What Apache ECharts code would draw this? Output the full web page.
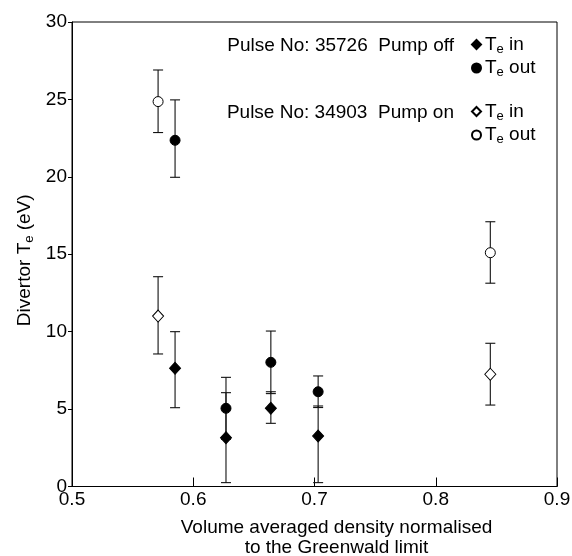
<!DOCTYPE html>
<html><head><meta charset="utf-8">
<script src="https://cdn.jsdelivr.net/npm/echarts@6/dist/echarts.min.js"></script>
<style>html,body{margin:0;padding:0;background:#fff}#c{width:572px;height:556px}</style>
</head><body><div id="c"></div>
<script>
// Pulse 35726, pump off
const offInX = [0.585, 0.627, 0.664, 0.703];
const offInY = [7.63, 3.15, 5.05, 3.26];
const offInLow = [5.09, 0.25, 4.08, 0.25];
const offInHigh = [10.0, 6.06, 6.12, 5.2];
const offOutX = [0.585, 0.627, 0.664, 0.703];
const offOutY = [22.36, 5.05, 8.02, 6.12];
const offOutLow = [19.97, 3.05, 6.0, 5.1];
const offOutHigh = [24.97, 7.05, 10.04, 7.14];
// Pulse 34903, pump on
const onInX = [0.571, 0.845];
const onInY = [11.01, 7.25];
const onInLow = [8.56, 5.26];
const onInHigh = [13.55, 9.25];
const onOutX = [0.571, 0.845];
const onOutY = [24.86, 15.1];
const onOutLow = [22.86, 13.13];
const onOutHigh = [26.9, 17.1];
const xTicks = [0.5, 0.6, 0.7, 0.8, 0.9];
const yTicks = [0, 5, 10, 15, 20, 25, 30];
const legendLabels = {offIn: 'in', offOut: 'out', onIn: 'in', onOut: 'out'};
const pulseLabels = ['Pulse No: 35726  Pump off', 'Pulse No: 34903  Pump on'];

const FONT = 'Liberation Sans';
const chart = echarts.init(document.getElementById('c'), null, {renderer: 'canvas'});
const pts = (xs, ys) => xs.map((x, i) => [x, ys[i]]);
const errs = (xs, lo, hi) => xs.map((x, i) => [x, lo[i], hi[i]]);
const allErr = [].concat(
  errs(offInX, offInLow, offInHigh), errs(offOutX, offOutLow, offOutHigh),
  errs(onInX, onInLow, onInHigh), errs(onOutX, onOutLow, onOutHigh));

function errItem(params, api) {
  const x = api.value(0);
  const p1 = api.coord([x, api.value(1)]);
  const p2 = api.coord([x, api.value(2)]);
  const w = 5;
  const st = {stroke: '#111', lineWidth: 1.1};
  return {type: 'group', children: [
    {type: 'line', shape: {x1: p1[0], y1: p1[1], x2: p2[0], y2: p2[1]}, style: st},
    {type: 'line', shape: {x1: p1[0]-w, y1: p1[1], x2: p1[0]+w, y2: p1[1]}, style: st},
    {type: 'line', shape: {x1: p2[0]-w, y1: p2[1], x2: p2[0]+w, y2: p2[1]}, style: st}
  ]};
}

const rich = {
  t: {fontFamily: FONT, fontSize: 19, color: '#000', lineHeight: 22},
  s: {fontFamily: FONT, fontSize: 13, color: '#000', lineHeight: 10, verticalAlign: 'bottom'}
};
const legendCommon = {
  orient: 'vertical', left: 471, itemWidth: 9, itemHeight: 9, itemGap: 3,
  selectedMode: false, padding: 0,
  formatter: n => '{t|T}{s|e}{t| ' + legendLabels[n] + '}',
  textStyle: {rich: rich, padding: [0, 0, 0, -1]}
};
const sym = (fill) => ({color: fill, borderColor: '#000', borderWidth: 1, opacity: 1});

chart.setOption({
  animation: false,
  backgroundColor: '#fff',
  grid: {left: 72, right: 15, top: 22, bottom: 69.5, show: true, borderColor: '#000', borderWidth: 1,
    backgroundColor: 'transparent', containLabel: false, outerBoundsMode: 'none'},
  xAxis: {
    type: 'value', min: 0.5, max: 0.9, interval: 0.1,
    name: 'Volume averaged density normalised\nto the Greenwald limit',
    nameLocation: 'middle', nameGap: 31, nameMoveOverlap: false,
    nameTextStyle: {fontFamily: FONT, fontSize: 19, color: '#000', lineHeight: 20, padding: [0, 0, 0, 44]},
    axisLine: {show: true, lineStyle: {color: '#000', width: 1}},
    axisTick: {show: true, inside: true, length: 9, lineStyle: {color: '#000'}},
    axisLabel: {fontFamily: FONT, fontSize: 19, color: '#000', margin: 4,
      formatter: v => xTicks.includes(+v.toFixed(1)) ? v.toFixed(1) : ''},
    splitLine: {show: false}
  },
  yAxis: {
    type: 'value', min: 0, max: 30, interval: 5,
    name: '{t|Divertor T}{s|e}{t| (eV)}',
    nameLocation: 'middle', nameGap: 36, nameRotate: 90, nameMoveOverlap: false,
    nameTextStyle: {padding: [0, 12, 0, 0], rich: {
      t: {fontFamily: FONT, fontSize: 19, color: '#000', lineHeight: 22},
      s: {fontFamily: FONT, fontSize: 13, color: '#000', lineHeight: 10, verticalAlign: 'bottom'}
    }},
    axisLine: {show: true, lineStyle: {color: '#000', width: 1}},
    axisTick: {show: true, inside: false, length: 4, lineStyle: {color: '#000'}},
    axisLabel: {fontFamily: FONT, fontSize: 19, color: '#000', margin: 5,
      formatter: v => yTicks.includes(v) ? String(v) : ''},
    splitLine: {show: false}
  },
  graphic: [
    {type: 'text', x: 454, y: 46, style: {text: pulseLabels[0], fontFamily: FONT, fontSize: 19, fill: '#000', textAlign: 'right', textVerticalAlign: 'middle'}},
    {type: 'text', x: 454, y: 113, style: {text: pulseLabels[1], fontFamily: FONT, fontSize: 19, fill: '#000', textAlign: 'right', textVerticalAlign: 'middle'}}
  ],
  legend: [
    Object.assign({}, legendCommon, {top: 35, data: ['offIn', 'offOut']}),
    Object.assign({}, legendCommon, {top: 102, data: ['onIn', 'onOut']})
  ],
  series: [
    {type: 'custom', name: 'err', renderItem: errItem, data: allErr, z: 1, silent: true},
    {type: 'scatter', name: 'offIn', data: pts(offInX, offInY), symbol: 'diamond', symbolSize: [11, 12],
      itemStyle: sym('#000'), z: 3},
    {type: 'scatter', name: 'offOut', data: pts(offOutX, offOutY), symbol: 'circle', symbolSize: 10,
      itemStyle: sym('#000'), z: 3},
    {type: 'scatter', name: 'onIn', data: pts(onInX, onInY), symbol: 'diamond', symbolSize: [11, 12],
      itemStyle: sym('#fff'), z: 3},
    {type: 'scatter', name: 'onOut', data: pts(onOutX, onOutY), symbol: 'circle', symbolSize: 10,
      itemStyle: sym('#fff'), z: 3}
  ]
});
</script></body></html>
